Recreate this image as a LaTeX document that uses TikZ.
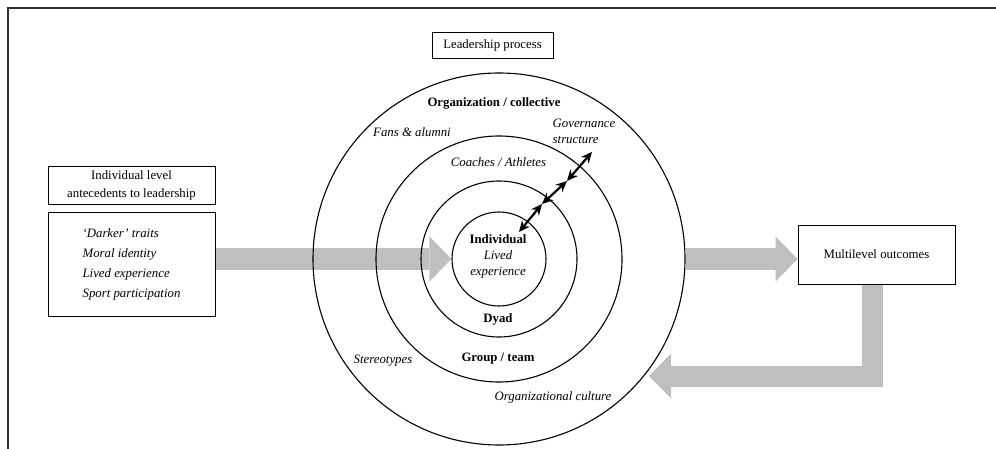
\documentclass[tikz,border=0pt]{standalone}
\usepackage{fontspec}
\setmainfont{Liberation Serif}
\usetikzlibrary{positioning, arrows.meta, backgrounds}
\tikzset{
ring/.style={shape=circle, draw, line width=1.1pt, inner sep=0}, box/.style={shape=rectangle, draw, line width=0.9pt, inner sep=0, font=\fontsize{12.8}{16}\selectfont}, lbl/.style={inner sep=0, align=center, font=\fontsize{12.8}{16}\selectfont}, lbli/.style={lbl, font=\fontsize{12.8}{16}\selectfont\itshape}, bigarrow/.style={draw=gray!50, line width=22pt, -{Triangle[length=22pt, width=45pt, line width=0pt]}}, linkarrow/.style={line width=2.2pt, {Stealth[length=11pt, width=10pt]}-{Stealth[length=11pt, width=10pt]}}}

\begin{document}
\begin{tikzpicture}[x=1pt, y=-1pt]
\useasboundingbox (0,0) rectangle (996,449);
\draw [line width=1.4pt, black!80] (996,8) -- (8,8) -- (8,449);
% levels of the leadership process
\node [ring, minimum size=372pt] (org) at (499,259) {};
\node [ring, minimum size=246pt] (group) at (499,259) {};
\node [ring, minimum size=156pt] (dyad) at (499,259) {};
\node [ring, minimum size=94pt] (ind) at (499,259) {};
\node [box, minimum width=121pt, minimum height=26pt] (lead) at (492.5,45) {Leadership process};
\node [lbl] (orgname) at (494,103) {\textbf{Organization / collective}};
\node [lbli] (fans) at (412,132) {Fans \& alumni};
\node [lbli, align=left] (gov) at (584,131) {Governance\\structure};
\node [lbli] (coach) at (498.5,162) {Coaches / Athletes};
\node [lbl] (indname) at (498,256) {\textbf{Individual}\\\textit{Lived}\\\textit{experience}};
\node [lbl] (dyadname) at (498,319) {\textbf{Dyad}};
\node [lbl] (groupname) at (498,359) {\textbf{Group / team}};
\node [lbli] (stereo) at (383,361) {Stereotypes};
\node [lbli] (culture) at (553,397) {Organizational culture};
% antecedents and outcomes
\node [box, minimum width=167pt, minimum height=104pt, align=left, font=\fontsize{12.8}{20}\selectfont\itshape] (traits) at (131.5,264) {`Darker' traits\\Moral identity\\Lived experience\\Sport participation};
\node [box, minimum width=167pt, minimum height=38pt, align=center, font=\fontsize{12.8}{18}\selectfont, above=7pt of traits] (ante) {Individual level\\antecedents to leadership};
\node [box, minimum width=157pt, minimum height=59pt] (multi) at (876.5,254.5) {Multilevel outcomes};
\coordinate (bend) at (872,376);
\coordinate (back) at (649,376);
\begin{scope}[on background layer]
\draw [bigarrow] (traits.east |- ind.west) -- (ind.west);
\draw [bigarrow] (org.east) -- (org.east -| multi.west);
\draw [bigarrow, line width=21pt] (multi.south -| bend) -- (bend) -- (back);
\end{scope}
% links between levels
\coordinate (g0) at (519,232);
\coordinate (g1) at (542,204);
\coordinate (g2) at (567,181);
\coordinate (g3) at (592,152);
\draw [linkarrow] (g0) -- (g1);
\draw [linkarrow] (g1) -- (g2);
\draw [linkarrow] (g2) -- (g3);
\end{tikzpicture}
\end{document}
